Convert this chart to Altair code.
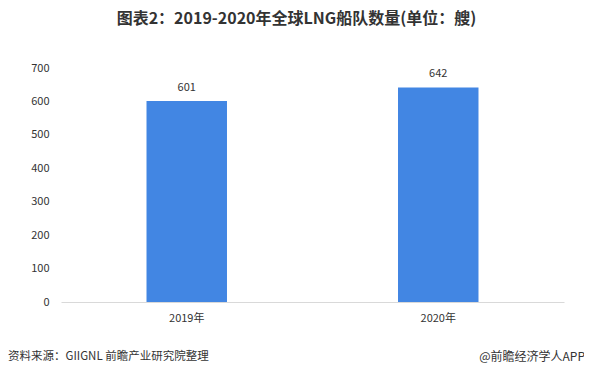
import altair as alt
import pandas as pd

years = ["2019年", "2020年"]
fleet = [601, 642]
y_ticks = [0, 100, 200, 300, 400, 500, 600, 700]
title_text = "图表2：2019-2020年全球LNG船队数量(单位：艘)"
source_text = "资料来源：GIIGNL 前瞻产业研究院整理"
brand_text = "@前瞻经济学人APP"

FONT = "Noto Sans CJK SC"
df = pd.DataFrame({"year": years, "count": fleet})

base = alt.Chart(df).encode(
    x=alt.X("year:N", sort=years,
            scale=alt.Scale(paddingInner=0.68, paddingOuter=0.34),
            axis=alt.Axis(title=None, labelAngle=0, ticks=False, domainColor="#d9d9d9",
                          labelFont=FONT, labelFontSize=11, labelColor="#333333",
                          labelPadding=10)),
    y=alt.Y("count:Q", scale=alt.Scale(domain=[0, 700]),
            axis=alt.Axis(title=None, values=y_ticks, grid=False, ticks=False, domain=False,
                          labelFont=FONT, labelFontSize=11, labelColor="#333333",
                          labelPadding=12)),
)

bars = base.mark_bar(color="#4286E3")
labels = base.mark_text(dy=-8, font=FONT, fontSize=11, color="#333333", baseline="bottom").encode(
    text="count:Q")

src = alt.Chart(pd.DataFrame({"t": [source_text]})).mark_text(
    font=FONT, fontSize=11.5, color="#333333", align="left", baseline="middle"
).encode(x=alt.value(-53), y=alt.value(289), text="t:N")

brand = alt.Chart(pd.DataFrame({"t": [brand_text]})).mark_text(
    font=FONT, fontSize=12, color="#333333", align="right", baseline="middle"
).encode(x=alt.value(524), y=alt.value(289), text="t:N")

chart = alt.layer(bars, labels, src, brand).properties(
    width=503, height=234,
    title=alt.TitleParams(title_text, font=FONT, fontSize=16, fontWeight="bold",
                          color="#333333", anchor="middle", frame="group",
                          baseline="middle", offset=27, dx=-16),
    autosize=alt.AutoSizeParams(type="none"),
    padding={"left": 53, "top": 60, "right": 20, "bottom": 74},
).configure_view(stroke=None)

chart.save("out.html", embed_options={"renderer": "svg", "actions": False})
